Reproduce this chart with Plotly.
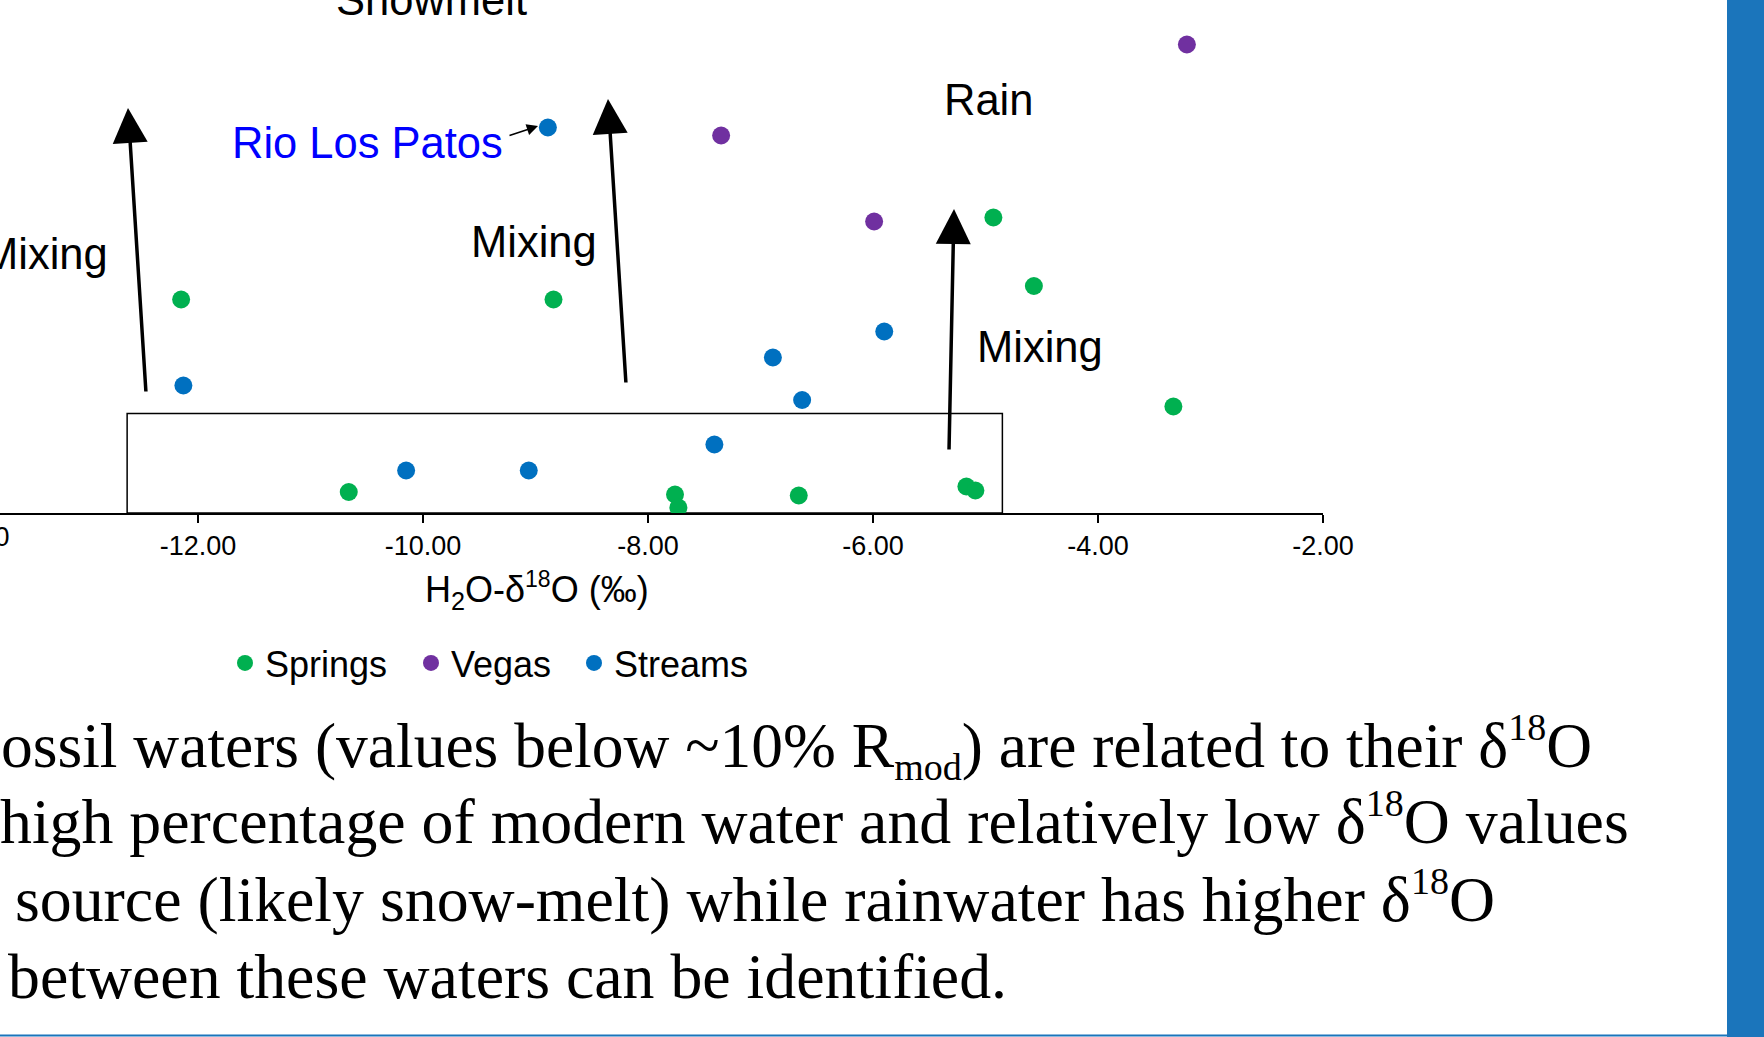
import plotly.graph_objects as go

# ---- data: H2O-d18O (permil) vs. percent modern water ----
springs_x = [-12.15, -8.84, -4.93, -4.57, -3.33, -10.66, -7.76, -7.73, -6.66, -5.17, -5.09]
springs_y = [42.7, 42.7, 59.1, 45.4, 21.3, 4.2, 3.7, 1.1, 3.5, 5.3, 4.5]

vegas_x = [-3.21, -7.35, -5.99]
vegas_y = [93.7, 75.5, 58.3]

streams_x = [-8.89, -12.13, -6.89, -5.90, -6.63, -7.41, -10.15, -9.06]
streams_y = [77.1, 25.5, 31.1, 36.3, 22.6, 13.7, 8.5, 8.5]

x_tickvals = [-14, -12, -10, -8, -6, -4, -2]
x_ticktext = ["%.2f" % v for v in x_tickvals]

# fossil-water box (d18O range, upper percent-modern limit)
box_x = [-12.63, -4.85]
box_y = [0, 19.9]

# ---- page geometry (pixels) ----
W, H = 1764, 1037
PL, PR, PT, PB = 0, 1323, 13, 513
X_RANGE = [-13.76, -2]
Y_RANGE = [0, 100]


def px_x(px):
    return (px - PL) / (PR - PL)


def px_y(py):
    return (PB - py) / (PB - PT)


SANS = "Liberation Sans, Arial, sans-serif"
SERIF = "Liberation Serif, Times New Roman, serif"

fig = go.Figure()
fig.add_trace(go.Scatter(x=springs_x, y=springs_y, mode="markers", name="Springs",
                         marker=dict(color="#00B050", size=18), legend="legend"))
fig.add_trace(go.Scatter(x=vegas_x, y=vegas_y, mode="markers", name="Vegas",
                         marker=dict(color="#7030A0", size=18), legend="legend2"))
fig.add_trace(go.Scatter(x=streams_x, y=streams_y, mode="markers", name="Streams",
                         marker=dict(color="#0070C0", size=18), legend="legend3"))

shapes = [
    dict(type="rect", xref="x", yref="y", x0=box_x[0], x1=box_x[1], y0=box_y[0], y1=box_y[1],
         line=dict(color="black", width=1.5), layer="below"),
    # slide accent bar on the right and thin rule at the bottom
    dict(type="rect", xref="paper", yref="paper", x0=px_x(1727), x1=px_x(1780),
         y0=px_y(1050), y1=px_y(-20), fillcolor="#1B75BB", line=dict(width=0)),
    dict(type="line", xref="paper", yref="paper", x0=px_x(-5), x1=px_x(1727),
         y0=px_y(1035.5), y1=px_y(1035.5), line=dict(color="#1B75BB", width=2)),
]

ann = []


def label(text, px, py, size=43.5, color="black", xanchor="center", family=SANS, yanchor="middle"):
    ann.append(dict(text=text, xref="paper", yref="paper", x=px_x(px), y=px_y(py),
                    xanchor=xanchor, yanchor=yanchor, showarrow=False,
                    font=dict(family=family, size=size, color=color)))


def arrow(tip_px, tip_py, tail_px, tail_py, width, size):
    ann.append(dict(text="", xref="paper", yref="paper", x=px_x(tip_px), y=px_y(tip_py),
                    axref="pixel", ayref="pixel", ax=tail_px - tip_px, ay=tail_py - tip_py,
                    showarrow=True, arrowhead=2, arrowwidth=width, arrowsize=size,
                    arrowcolor="black", standoff=0))


label("Snowmelt", 432, 0)
label("Rain", 988, 100)
label("Mixing", 110, 254, xanchor="right")
label("Mixing", 534, 242)
label("Mixing", 1040, 347)
label("Rio Los Patos", 367, 143, color="#0000FF")

arrow(128, 108, 146, 393, 3.5, 2.0)
arrow(608, 99, 626, 384, 3.5, 2.0)
arrow(954, 209, 949, 451, 3.5, 2.0)
arrow(538, 126, 508, 136, 1.5, 1.5)

# axis title and the partly hidden leftmost tick label
label("H<sub>2</sub>O-δ<sup><span style='font-size:23px'>18</span></sup>O (‰)", 537, 590, size=36)
label("-14.00", -29, 537, size=27)

# caption below the chart
SUP18 = "<sup><span style='font-size:38px'>18</span></sup>"
label("ossil waters (values below ~10% R<sub><span style='font-size:38px'>mod</span></sub>)"
      " are related to their δ" + SUP18 + "O",
      -1, 747, size=63.5, xanchor="left", family=SERIF)
label("high percentage of modern water and relatively low δ" + SUP18 + "O values",
      -2, 820, size=63.8, xanchor="left", family=SERIF)
label("source (likely snow-melt) while rainwater has higher δ" + SUP18 + "O",
      13, 897, size=63.8, xanchor="left", family=SERIF)
label("between these waters can be identified.",
      6, 976, size=63.8, xanchor="left", family=SERIF)

legend_common = dict(orientation="h", yanchor="middle", y=px_y(663), xanchor="left",
                     font=dict(family=SANS, size=36, color="black"),
                     bgcolor="rgba(0,0,0,0)")

fig.update_layout(
    width=W, height=H,
    margin=dict(l=PL, r=W - PR, t=PT, b=H - PB, pad=0),
    paper_bgcolor="white", plot_bgcolor="white",
    showlegend=True,
    legend=dict(x=px_x(245 - 20), **legend_common),
    legend2=dict(x=px_x(431 - 20), **legend_common),
    legend3=dict(x=px_x(594 - 20), **legend_common),
    xaxis=dict(range=X_RANGE, tickvals=x_tickvals, ticktext=x_ticktext,
               showgrid=False, zeroline=False, showline=True, linecolor="black", linewidth=2,
               ticks="outside", ticklen=8, tickwidth=1.5, tickcolor="black",
               tickfont=dict(family=SANS, size=27, color="black")),
    yaxis=dict(range=Y_RANGE, visible=False, showgrid=False, zeroline=False),
    shapes=shapes,
    annotations=ann,
)

fig.write_html("out.html")
